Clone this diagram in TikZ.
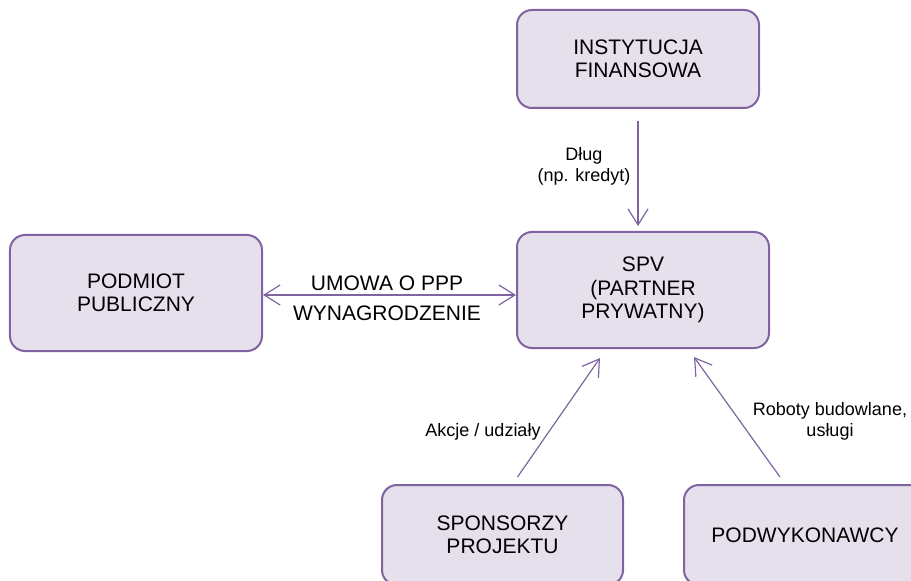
\documentclass[tikz,border=0pt]{standalone}
\usepackage{fontspec}
\setmainfont{Liberation Sans}
\usetikzlibrary{arrows.meta}
\definecolor{boxfill}{HTML}{E5E0EC}
\definecolor{boxline}{HTML}{8064A2}
\begin{document}
\begin{tikzpicture}[x=1bp,y=-1bp,
  entity/.style={draw=boxline, fill=boxfill, line width=2bp, rounded corners=15bp,
    inner sep=0pt, align=center, font=\fontsize{21bp}{23.5bp}\selectfont},
  arr/.style={draw=boxline, line width=1.2bp, -{Straight Barb[length=16bp,width=20bp]}},
  lbl/.style={align=center, inner sep=0pt, font=\fontsize{18bp}{21bp}\selectfont},
  biglbl/.style={align=center, inner sep=0pt, font=\fontsize{21bp}{24bp}\selectfont}]
\useasboundingbox (0,0) rectangle (911,581);
\clip (0,0) rectangle (911,581);
\node[entity, minimum width=242bp, minimum height=98bp] (inst) at (638,59) {INSTYTUCJA\\FINANSOWA};
\node[entity, minimum width=252bp, minimum height=116bp] (spv) at (643,290) {SPV\\(PARTNER\\PRYWATNY)};
\node[entity, minimum width=252bp, minimum height=116bp] (pub) at (136,293) {PODMIOT\\PUBLICZNY};
\node[entity, minimum width=241bp, minimum height=100bp] (spons) at (502.5,535) {SPONSORZY\\PROJEKTU};
\node[entity, minimum width=242bp, minimum height=100bp] (podw) at (805,535) {PODWYKONAWCY};
% arrows
\draw[arr, shorten <=12bp, shorten >=5bp] (inst.south) -- (inst.south |- spv.north);
\draw[arr, {Straight Barb[length=16bp,width=20bp]}-{Straight Barb[length=16bp,width=20bp]}] (pub.east |- 0,295) -- (spv.west |- 0,295);
\draw[arr] ([xshift=15bp,yshift=7bp]spons.north) -- ([xshift=-43bp,yshift=-9bp]spv.south);
\draw[arr] ([xshift=-25bp,yshift=7bp]podw.north) -- ([xshift=51bp,yshift=-8bp]spv.south);
% labels
\node[lbl] (l1) at (584,166) {Dług\\(np. kredyt)};
\node[biglbl] (l2) at (387,283) {UMOWA O PPP};
\node[biglbl] (l3) at (387,313) {WYNAGRODZENIE};
\node[lbl] (l4) at (483,432) {Akcje / udziały};
\node[lbl] (l5) at (830,421) {Roboty budowlane,\\usługi};
\end{tikzpicture}
\end{document}
